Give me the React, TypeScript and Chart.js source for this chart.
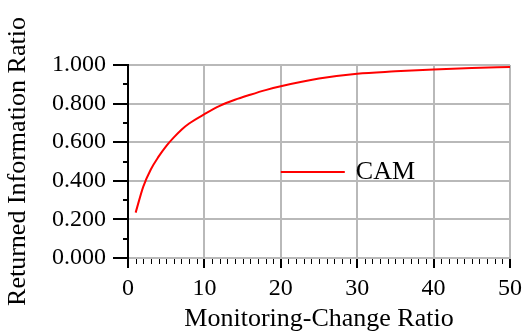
import React, { useEffect, useRef } from "react";
import { Chart, registerables } from "chart.js";

Chart.register(...registerables);

const ratioX: number[] = [1, 2, 3, 4, 5, 6, 7, 8, 10, 12, 14, 16, 18, 20, 25, 30, 35, 40, 45, 50];
const camValues: number[] = [
  0.235, 0.37, 0.46, 0.525, 0.58, 0.625, 0.665, 0.697, 0.745, 0.788,
  0.82, 0.846, 0.87, 0.89, 0.93, 0.955, 0.967, 0.977, 0.985, 0.99,
];
const seriesLabel = "CAM";
const xTitle = "Monitoring-Change Ratio";
const yTitle = "Returned Information Ratio";

const SERIF = "'Liberation Serif', 'Times New Roman', serif";
const GRID = "#b9b9b9";

// Minor tick marks, the black left axis and the in-plot legend
const axisDecor = {
  id: "axisDecor",
  afterDraw(chart: any) {
    const { ctx, chartArea, scales } = chart;
    const xs = scales.x;
    const ys = scales.y;
    ctx.save();
    ctx.strokeStyle = "#000";
    ctx.lineWidth = 1;
    for (let v = 1; v < 50; v++) {
      if (v % 10 === 0) continue;
      const px = Math.round(xs.getPixelForValue(v)) + 0.5;
      ctx.beginPath();
      ctx.moveTo(px, chartArea.bottom + 1);
      ctx.lineTo(px, chartArea.bottom + 6);
      ctx.stroke();
    }
    ctx.lineWidth = 2;
    for (let k = 1; k < 10; k += 2) {
      const py = Math.round(ys.getPixelForValue(k / 10));
      ctx.beginPath();
      ctx.moveTo(chartArea.left - 5, py);
      ctx.lineTo(chartArea.left, py);
      ctx.stroke();
    }
    // left axis line, running a little past the bottom
    ctx.beginPath();
    ctx.moveTo(chartArea.left, chartArea.top);
    ctx.lineTo(chartArea.left, chartArea.bottom + 10);
    ctx.stroke();

    // legend
    const ds = chart.data.datasets[0];
    const lx = chartArea.left + (chartArea.right - chartArea.left) * 0.4;
    const ly = chartArea.top + (chartArea.bottom - chartArea.top) * 0.555;
    ctx.strokeStyle = ds.borderColor;
    ctx.lineWidth = 2;
    ctx.beginPath();
    ctx.moveTo(lx, ly);
    ctx.lineTo(lx + 64, ly);
    ctx.stroke();
    ctx.fillStyle = "#000";
    ctx.font = `26px ${SERIF}`;
    ctx.textBaseline = "middle";
    ctx.textAlign = "left";
    ctx.fillText(ds.label, lx + 75, ly);
    ctx.restore();
  },
};

export default function App() {
  const ref = useRef<HTMLCanvasElement | null>(null);

  useEffect(() => {
    if (!ref.current) return;
    const chart = new Chart(ref.current, {
      type: "line",
      data: {
        datasets: [
          {
            label: seriesLabel,
            data: ratioX.map((x, i) => ({ x, y: camValues[i] })),
            borderColor: "#ff0000",
            borderWidth: 2,
            pointRadius: 0,
            cubicInterpolationMode: "monotone",
            fill: false,
          },
        ],
      },
      options: {
        animation: false,
        responsive: false,
        events: [],
        layout: { padding: { top: 65, right: 13, left: 0, bottom: 0 } },
        plugins: {
          legend: { display: false },
          tooltip: { enabled: false },
        },
        scales: {
          x: {
            type: "linear",
            min: 0,
            max: 50,
            ticks: {
              stepSize: 10,
              color: "#000",
              font: { family: SERIF, size: 24 },
              padding: 6,
              maxRotation: 0,
            },
            grid: {
              color: GRID,
              lineWidth: 2,
              tickColor: "#000",
              tickLength: 10,
              tickWidth: 2,
            },
            border: { color: GRID, width: 2 },
            title: {
              display: true,
              text: xTitle,
              color: "#000",
              font: { family: SERIF, size: 26 },
              padding: { top: 0, bottom: 0 },
            },
            afterFit: (s: any) => {
              s.height = 77;
              s.paddingLeft = 0;
              s.paddingRight = 0;
            },
          },
          y: {
            type: "linear",
            min: 0,
            max: 1,
            ticks: {
              stepSize: 0.2,
              color: "#000",
              font: { family: SERIF, size: 24 },
              padding: 7,
              callback: (v: any) => Number(v).toFixed(3),
            },
            grid: {
              color: GRID,
              lineWidth: 2,
              tickColor: "#000",
              tickLength: 15,
              tickWidth: 2,
            },
            border: { color: "#000", width: 2 },
            title: {
              display: true,
              text: yTitle,
              color: "#000",
              font: { family: SERIF, size: 26 },
              padding: { top: 3, bottom: 0 },
            },
            afterFit: (s: any) => {
              s.width = 128;
              s.paddingTop = 0;
              s.paddingBottom = 0;
            },
          },
        },
      },
      plugins: [axisDecor],
    });
    return () => chart.destroy();
  }, []);

  return (
    <div style={{ position: "fixed", left: 0, top: 0, width: 523, height: 335, background: "#fff" }}>
      <canvas ref={ref} width={523} height={335} style={{ display: "block" }} />
    </div>
  );
}
